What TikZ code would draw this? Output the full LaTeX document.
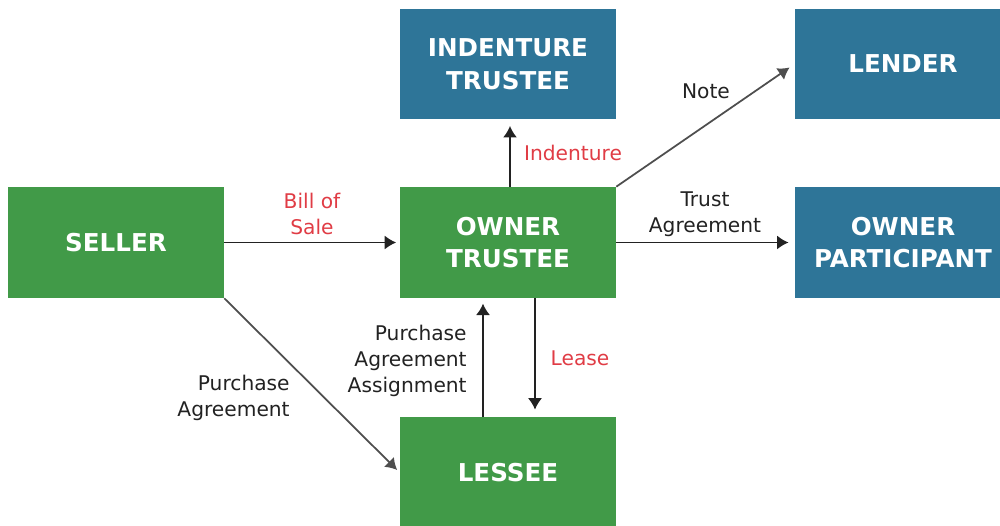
\documentclass[tikz,border=0pt]{standalone}
\usepackage{fontspec}
\setmainfont{DejaVu Sans}
\usetikzlibrary{arrows.meta}

\definecolor{boxgreen}{HTML}{419A48}
\definecolor{boxblue}{HTML}{2E7598}
\definecolor{labred}{HTML}{E03C45}
\definecolor{linegray}{HTML}{222222}

\begin{document}
\begin{tikzpicture}[x=0.02cm, y=-0.02cm,
  party/.style={minimum width=4.32cm, minimum height=2.22cm, inner sep=0pt, align=center,
    text=white, font=\fontsize{14}{18.5}\selectfont\bfseries},
  green/.style={party, fill=boxgreen},
  blue/.style={party, fill=boxblue},
  lab/.style={inner sep=0pt, align=center, text=linegray, font=\fontsize{11.5}{14.7}\selectfont},
  red/.style={lab, text=labred},
  arr/.style={linegray, line width=1pt, -{Latex[length=6.5pt,width=8pt]}}]
\clip (0,0) rectangle (1000,526); % page size
% Parties
\node[green] (seller)      at (116,242.5) {SELLER};
\node[green] (owner)       at (508,242.5) {OWNER\\TRUSTEE};
\node[blue]  (indenture)   at (508,64)    {INDENTURE\\TRUSTEE};
\node[blue]  (lender)      at (903,64)    {LENDER};
\node[blue]  (participant) at (903,242.5) {OWNER\\PARTICIPANT};
\node[green] (lessee)      at (508,472.5) {LESSEE};
% Documents
\draw[arr, shorten >=2pt] (seller) -- (owner);
\draw[arr, shorten >=3.5pt] ([xshift=0.04cm]owner.north) -- ([xshift=0.04cm]indenture.south);
\draw[arr, linegray!80, shorten >=3.5pt] (owner.north east) -- (lender.west);
\draw[arr, shorten >=3.5pt] (owner.east) -- (participant.west);
\draw[arr, linegray!80, shorten >=2pt] (seller.south east) -- (lessee.west);
\draw[arr, shorten >=3pt] ([xshift=-0.5cm]lessee.north) -- ([xshift=-0.5cm]owner.south);
\draw[arr, shorten >=4pt] ([xshift=0.54cm]owner.south) -- ([xshift=0.54cm]lessee.north);
% Labels
\node[red] (billlab)   at (312,214) {Bill of\\Sale};
\node[red] (indlab)    at (573,153) {Indenture};
\node[lab] (notelab)   at (706,91)  {Note};
\node[lab] (trustlab)  at (705,214) {Trust\\Agreement};
\node[lab, align=right, anchor=east] (palab)  at (290,398) {Purchase\\Agreement};
\node[lab, align=right, anchor=east] (paalab) at (467,361) {Purchase\\Agreement\\Assignment};
\node[red] (leaselab)  at (580,358) {Lease};
\end{tikzpicture}
\end{document}
